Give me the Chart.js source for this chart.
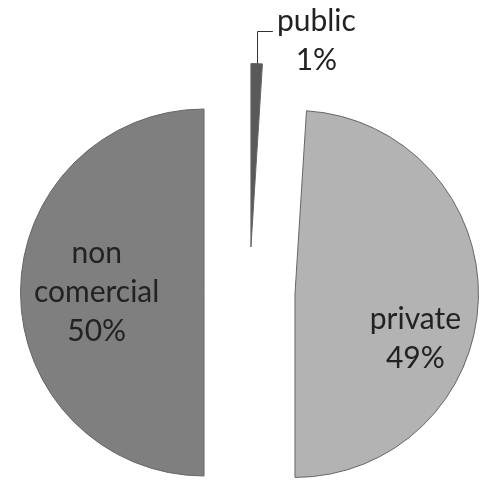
<!DOCTYPE html>
<html>
<head>
<meta charset="utf-8">
<script src="https://cdn.jsdelivr.net/npm/chart.js@4"></script>
<style>
  html, body { margin: 0; padding: 0; background: #fff; }
</style>
</head>
<body>
<canvas id="pie" width="481" height="483"></canvas>
<script>
const categories = ['public', 'private', 'non comercial'];
const shares = [1, 49, 50];
const sliceColors = ['#595959', '#b3b3b3', '#7f7f7f'];

// pull every slice out from the centre by this many px (Excel style explode)
const explode = 45.5;

// where each label sits: angle from top (clockwise, deg) and distance as part of the radius
const labelAngle = [17.6, 110.4, 270];
const labelDist = [1.18, 0.70, 0.585];

const explodeSlices = {
    id: 'explodeSlices',
    afterDatasetsUpdate(chart) {
        chart.getDatasetMeta(0).data.forEach(arc => {
            const mid = (arc.startAngle + arc.endAngle) / 2;
            arc.x += Math.cos(mid) * explode;
            arc.y += Math.sin(mid) * explode;
        });
    }
};

const sliceLabels = {
    id: 'sliceLabels',
    afterDatasetsDraw(chart) {
        const ctx = chart.ctx;
        const meta = chart.getDatasetMeta(0);
        const total = shares.reduce((a, b) => a + b, 0);
        ctx.save();
        ctx.font = '30px Lato';
        ctx.fillStyle = '#222';
        ctx.textAlign = 'center';
        ctx.textBaseline = 'middle';
        meta.data.forEach((arc, i) => {
            const mid = (arc.startAngle + arc.endAngle) / 2;
            const cx = arc.x, cy = arc.y, r = arc.outerRadius;

            const a = (labelAngle[i] - 90) * Math.PI / 180;
            const lx = cx + Math.cos(a) * r * labelDist[i];
            const ly = cy + Math.sin(a) * r * labelDist[i];
            const lines = categories[i].split(' ');
            lines.push(Math.round(shares[i] / total * 100) + '%');
            const lh = 39;
            lines.forEach((t, k) => {
                ctx.fillText(t, lx, ly + (k - (lines.length - 1) / 2) * lh);
            });

            if (labelDist[i] > 1) {
                // leader line from slice tip to the label
                const ox = cx + Math.cos(mid) * r;
                const oy = cy + Math.sin(mid) * r;
                const firstY = ly - (lines.length - 1) / 2 * lh + 10;
                const w = ctx.measureText(lines[0]).width;
                ctx.strokeStyle = '#333';
                ctx.lineWidth = 1;
                ctx.beginPath();
                ctx.moveTo(Math.round(ox) + 0.5, oy);
                ctx.lineTo(Math.round(ox) + 0.5, Math.round(firstY) + 0.5);
                ctx.lineTo(lx - w / 2 - 4, Math.round(firstY) + 0.5);
                ctx.stroke();
            }
        });
        ctx.restore();
    }
};

new Chart(document.getElementById('pie'), {
    type: 'pie',
    data: {
        labels: categories,
        datasets: [{
            data: shares,
            backgroundColor: sliceColors,
            borderColor: '#666',
            borderWidth: 1,
            hoverOffset: 0,
            radius: 183.5,
            clip: false
        }]
    },
    options: {
        responsive: false,
        animation: false,
        layout: { padding: { left: 18, top: 102, right: 0, bottom: 0 } },
        plugins: {
            legend: { display: false },
            tooltip: { enabled: false }
        }
    },
    plugins: [explodeSlices, sliceLabels]
});
</script>
</body>
</html>
